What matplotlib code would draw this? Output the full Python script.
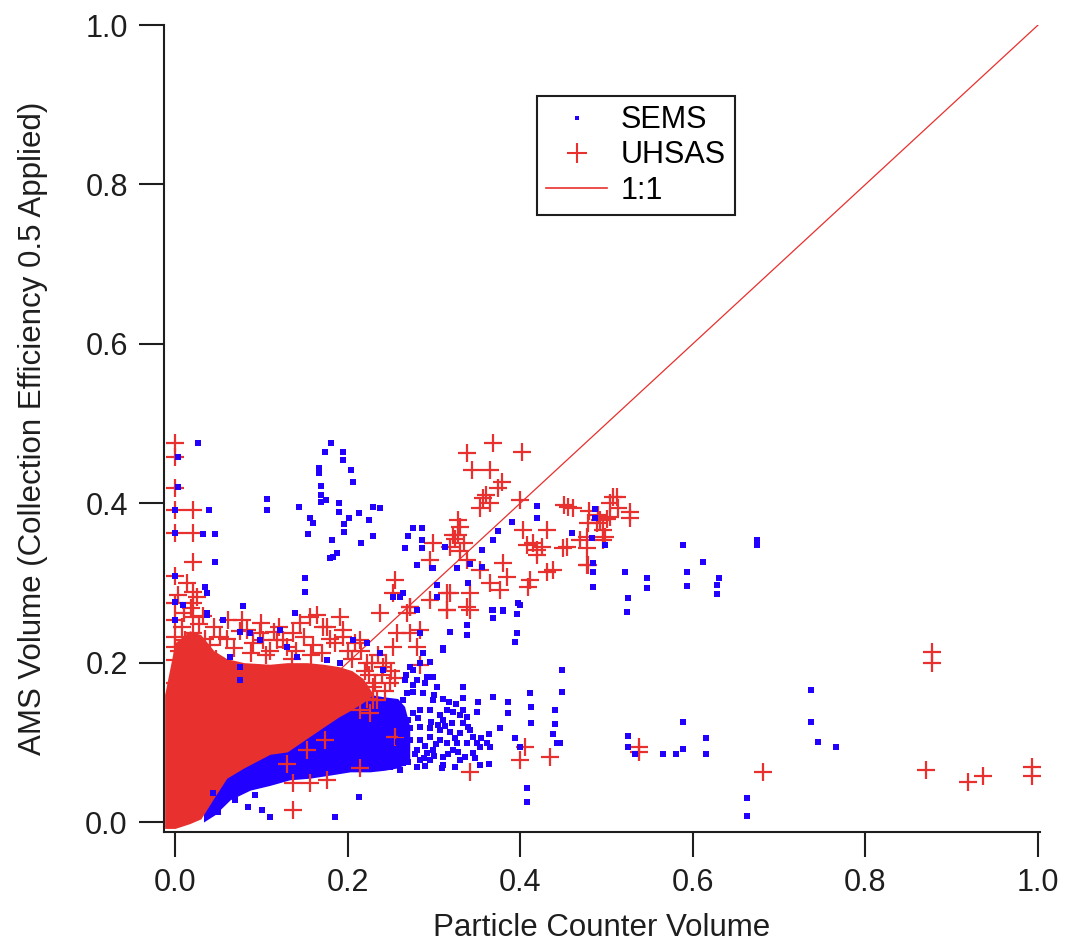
import numpy as np
import matplotlib
matplotlib.use("Agg")
from matplotlib import pyplot as plt
from matplotlib.lines import Line2D

plt.rcParams['font.family'] = ['Liberation Sans', 'DejaVu Sans']

RED = '#e8302e'
BLUE = '#2200ff'
INK = '#1e1e1e'

#%% saturated parts of the two clouds (upper / lower envelope)
uhsas_core_x = [-0.012, 0.0, 0.017, 0.030, 0.045, 0.060, 0.080, 0.110, 0.130, 0.153, 0.172, 0.190, 0.205, 0.218, 0.230]
uhsas_core_lo = [-0.008, -0.008, -0.002, 0.004, 0.030, 0.055, 0.068, 0.085, 0.088, 0.105, 0.119, 0.132, 0.141, 0.150, 0.160]
uhsas_core_hi = [0.160, 0.225, 0.240, 0.235, 0.215, 0.205, 0.200, 0.198, 0.200, 0.200, 0.198, 0.195, 0.190, 0.180, 0.160]

sems_core_x = [0.033, 0.046, 0.064, 0.087, 0.110, 0.133, 0.156, 0.180, 0.203, 0.226, 0.243, 0.258, 0.266, 0.272]
sems_core_lo = [0.0, 0.009, 0.028, 0.040, 0.046, 0.053, 0.055, 0.059, 0.063, 0.063, 0.065, 0.068, 0.072, 0.080]
sems_core_hi = [0.030, 0.050, 0.080, 0.100, 0.110, 0.120, 0.130, 0.145, 0.160, 0.160, 0.157, 0.155, 0.145, 0.120]

#%% UHSAS individual points
uh_left_x = [0.0, 0.0, 0.0, 0.0, 0.0, 0.0, 0.0, 0.0, 0.0, 0.0, 0.0, 0.0,
             0.021, 0.021, 0.021, 0.021, 0.021, 0.021, 0.021]
uh_left_y = [0.476, 0.458, 0.419, 0.391, 0.363, 0.309, 0.275, 0.253, 0.232, 0.220, 0.203, 0.174,
             0.391, 0.363, 0.326, 0.289, 0.275, 0.257, 0.237]

uh_top_x = [0.061, 0.078, 0.083, 0.098, 0.118, 0.137, 0.156, 0.171, 0.191, 0.195, 0.214,
            0.100, 0.120, 0.145, 0.165, 0.180, 0.200, 0.110, 0.130, 0.060, 0.045, 0.035]
uh_top_y = [0.253, 0.253, 0.241, 0.237, 0.228, 0.237, 0.257, 0.245, 0.257, 0.241, 0.228,
            0.250, 0.245, 0.250, 0.260, 0.230, 0.215, 0.215, 0.220, 0.230, 0.245, 0.230]

uh_fill_x = [0.005, 0.012, 0.028, 0.040, 0.052, 0.068, 0.075, 0.090, 0.105, 0.115, 0.125, 0.140, 0.150,
             0.160, 0.170, 0.185, 0.195, 0.205, 0.215, 0.222, 0.010, 0.032, 0.048, 0.088, 0.102, 0.135,
             0.158, 0.176, 0.208, 0.225, 0.004, 0.014, 0.008, 0.018, 0.026, 0.190, 0.200, 0.210, 0.220,
             0.228, 0.235, 0.240, 0.245, 0.215, 0.222, 0.232, 0.243, 0.250]
uh_fill_y = [0.215, 0.228, 0.248, 0.222, 0.232, 0.218, 0.240, 0.225, 0.210, 0.238, 0.228, 0.214, 0.232,
             0.222, 0.212, 0.225, 0.232, 0.205, 0.215, 0.200, 0.262, 0.258, 0.205, 0.212, 0.228, 0.205,
             0.210, 0.245, 0.225, 0.185, 0.285, 0.300, 0.245, 0.268, 0.282, 0.180, 0.170, 0.165, 0.190,
             0.200, 0.210, 0.185, 0.200, 0.170, 0.155, 0.175, 0.165, 0.190]

uh_mid_x = [0.238, 0.255, 0.253, 0.269, 0.272, 0.284, 0.257, 0.280, 0.253, 0.241, 0.229, 0.229, 0.226,
            0.249, 0.295, 0.319, 0.315, 0.234, 0.214, 0.284, 0.255, 0.342, 0.272]
uh_mid_y = [0.262, 0.304, 0.287, 0.262, 0.237, 0.241, 0.237, 0.220, 0.220, 0.194, 0.169, 0.153, 0.137,
            0.174, 0.279, 0.287, 0.266, 0.153, 0.141, 0.197, 0.181, 0.266, 0.270]

uh_band_x = [0.255, 0.214, 0.176, 0.174, 0.153, 0.130, 0.137, 0.137, 0.156, 0.342, 0.406, 0.400, 0.435, 0.538, 0.538]
uh_band_y = [0.107, 0.068, 0.053, 0.103, 0.090, 0.073, 0.049, 0.015, 0.049, 0.063, 0.094, 0.078, 0.082, 0.094, 0.088]

uh_up_x = [0.338, 0.368, 0.402, 0.344, 0.365, 0.379, 0.374, 0.357, 0.400, 0.353, 0.328, 0.322, 0.328,
           0.299, 0.319, 0.295, 0.338, 0.403, 0.408, 0.419, 0.431, 0.455, 0.461, 0.450, 0.477, 0.477,
           0.489, 0.508, 0.513, 0.527, 0.496, 0.498, 0.380, 0.385, 0.365, 0.377, 0.411, 0.409, 0.431,
           0.438, 0.353, 0.342, 0.315, 0.315, 0.338, 0.272,
           0.330, 0.325, 0.335, 0.330, 0.360, 0.365, 0.415, 0.420, 0.425, 0.480, 0.490, 0.500,
           0.451, 0.512, 0.504, 0.504, 0.527, 0.492, 0.478, 0.469, 0.477, 0.496, 0.454, 0.478]
uh_up_y = [0.463, 0.476, 0.464, 0.442, 0.442, 0.427, 0.419, 0.407, 0.404, 0.394, 0.379, 0.360, 0.360,
           0.350, 0.345, 0.329, 0.329, 0.366, 0.348, 0.341, 0.366, 0.395, 0.394, 0.344, 0.358, 0.322,
           0.375, 0.408, 0.394, 0.389, 0.366, 0.358, 0.325, 0.307, 0.300, 0.291, 0.304, 0.295, 0.314,
           0.316, 0.316, 0.287, 0.287, 0.266, 0.270, 0.270,
           0.370, 0.355, 0.350, 0.340, 0.410, 0.400, 0.350, 0.335, 0.345, 0.390, 0.385, 0.380,
           0.398, 0.408, 0.400, 0.383, 0.381, 0.379, 0.375, 0.354, 0.344, 0.354, 0.345, 0.322]

uh_far_x = [0.681, 0.870, 0.877, 0.877, 0.919, 0.936, 0.993, 0.993]
uh_far_y = [0.063, 0.065, 0.213, 0.200, 0.050, 0.058, 0.069, 0.058]

#%% SEMS individual points
se_left_x = [0.003, 0.027, 0.039, 0.032, 0.046, 0.046, 0.035, 0.037, 0.037, 0.0, 0.0, 0.003, 0.0, 0.0, 0.0, 0.009,
             0.107, 0.107, 0.079, 0.139, 0.151, 0.151]
se_left_y = [0.458, 0.476, 0.391, 0.361, 0.361, 0.326, 0.295, 0.287, 0.260, 0.391, 0.363, 0.420, 0.309, 0.276, 0.253, 0.272,
             0.405, 0.391, 0.271, 0.262, 0.306, 0.289]

se_arch_x = [0.181, 0.174, 0.195, 0.195, 0.167, 0.167, 0.204, 0.206, 0.169, 0.169, 0.169, 0.175, 0.190, 0.190,
             0.144, 0.156, 0.160, 0.154, 0.202, 0.196, 0.196, 0.213, 0.225, 0.229, 0.238, 0.229, 0.215,
             0.182, 0.183, 0.180, 0.188]
se_arch_y = [0.476, 0.464, 0.464, 0.454, 0.444, 0.438, 0.442, 0.427, 0.422, 0.410, 0.402, 0.404, 0.400, 0.389,
             0.395, 0.381, 0.375, 0.361, 0.381, 0.374, 0.364, 0.388, 0.379, 0.395, 0.394, 0.359, 0.350,
             0.354, 0.332, 0.331, 0.338]

se_up_x = [0.276, 0.286, 0.270, 0.286, 0.286, 0.267, 0.280, 0.298, 0.304, 0.261, 0.313, 0.299,
           0.419, 0.419, 0.391, 0.374, 0.368, 0.356, 0.342, 0.356, 0.327, 0.340, 0.304,
           0.487, 0.487, 0.460, 0.483, 0.498, 0.484, 0.484, 0.484, 0.521, 0.525, 0.547, 0.547, 0.524,
           0.397, 0.380, 0.367, 0.400, 0.396, 0.380, 0.396, 0.394, 0.368, 0.368, 0.338, 0.338, 0.319, 0.311,
           0.589, 0.593, 0.593, 0.612, 0.630, 0.628, 0.628, 0.674, 0.674]
se_up_y = [0.369, 0.369, 0.359, 0.354, 0.344, 0.344, 0.322, 0.319, 0.282, 0.282, 0.345, 0.319,
           0.396, 0.381, 0.376, 0.365, 0.354, 0.341, 0.324, 0.320, 0.319, 0.300, 0.297,
           0.393, 0.381, 0.363, 0.356, 0.348, 0.325, 0.314, 0.295, 0.314, 0.281, 0.306, 0.294, 0.263,
           0.275, 0.266, 0.266, 0.272, 0.261, 0.265, 0.237, 0.226, 0.266, 0.256, 0.247, 0.235, 0.238, 0.218,
           0.348, 0.314, 0.296, 0.326, 0.306, 0.297, 0.286, 0.354, 0.348]

se_edge_x = [0.037, 0.056, 0.075, 0.087, 0.098, 0.122, 0.130, 0.064, 0.075, 0.075, 0.141, 0.176, 0.191,
             0.206, 0.222, 0.238, 0.241, 0.267, 0.276, 0.269, 0.284, 0.287, 0.299, 0.311, 0.280, 0.264, 0.253]
se_edge_y = [0.262, 0.253, 0.238, 0.237, 0.228, 0.241, 0.220, 0.207, 0.194, 0.178, 0.207, 0.203, 0.199,
             0.228, 0.225, 0.212, 0.191, 0.178, 0.191, 0.162, 0.237, 0.212, 0.182, 0.216, 0.266, 0.287, 0.282]

se_clump_x = [0.272, 0.284, 0.295, 0.280, 0.292, 0.304, 0.276, 0.287, 0.299, 0.264, 0.261, 0.276, 0.284,
              0.295, 0.307, 0.315, 0.322, 0.330, 0.338, 0.311, 0.321, 0.334, 0.340, 0.264, 0.272, 0.284,
              0.295, 0.307, 0.319, 0.330, 0.345, 0.272, 0.284, 0.295, 0.307, 0.315, 0.327, 0.338, 0.350,
              0.362, 0.280, 0.292, 0.299, 0.322, 0.345, 0.353, 0.284, 0.295, 0.311, 0.330, 0.280, 0.264,
              0.261, 0.249,
              0.268, 0.276, 0.290, 0.300, 0.310, 0.318, 0.326, 0.334, 0.270, 0.282, 0.297, 0.305, 0.313,
              0.290, 0.302, 0.325, 0.342, 0.355, 0.268, 0.278, 0.288, 0.300, 0.316, 0.328, 0.348, 0.270,
              0.290, 0.310, 0.258, 0.262,
              0.440, 0.440, 0.438, 0.443, 0.411, 0.413, 0.413, 0.394, 0.400, 0.408, 0.408, 0.377, 0.364,
              0.364, 0.386, 0.386, 0.368, 0.351, 0.350, 0.334, 0.334, 0.336, 0.324, 0.309, 0.353, 0.365]
se_clump_y = [0.194, 0.199, 0.201, 0.178, 0.182, 0.169, 0.163, 0.162, 0.153, 0.153, 0.137, 0.137, 0.141,
              0.141, 0.134, 0.141, 0.138, 0.134, 0.132, 0.128, 0.124, 0.124, 0.119, 0.119, 0.118, 0.119,
              0.118, 0.115, 0.113, 0.112, 0.107, 0.103, 0.103, 0.107, 0.103, 0.099, 0.099, 0.099, 0.099,
              0.099, 0.090, 0.087, 0.090, 0.090, 0.087, 0.094, 0.078, 0.078, 0.082, 0.078, 0.069, 0.074,
              0.065, 0.069,
              0.185, 0.172, 0.175, 0.160, 0.155, 0.150, 0.148, 0.140, 0.128, 0.130, 0.125, 0.122, 0.120,
              0.095, 0.098, 0.105, 0.115, 0.105, 0.090, 0.085, 0.080, 0.083, 0.086, 0.088, 0.080, 0.075,
              0.070, 0.072, 0.100, 0.110,
              0.141, 0.123, 0.110, 0.099, 0.162, 0.144, 0.124, 0.105, 0.094, 0.043, 0.025, 0.118, 0.110,
              0.073, 0.151, 0.137, 0.157, 0.151, 0.138, 0.169, 0.156, 0.082, 0.069, 0.068, 0.072, 0.094]

se_low_x = [0.044, 0.054, 0.070, 0.050, 0.085, 0.101, 0.110, 0.185, 0.093, 0.073, 0.213]
se_low_y = [0.036, 0.024, 0.028, 0.013, 0.019, 0.015, 0.006, 0.006, 0.034, 0.040, 0.031]

se_far_x = [0.448, 0.448, 0.446, 0.525, 0.525, 0.533, 0.565, 0.581, 0.589, 0.589, 0.615, 0.615,
            0.663, 0.663, 0.737, 0.737, 0.745, 0.766]
se_far_y = [0.191, 0.163, 0.099, 0.108, 0.094, 0.085, 0.085, 0.085, 0.125, 0.092, 0.105, 0.085,
            0.030, 0.008, 0.166, 0.125, 0.100, 0.094]

one_x = [0.0, 1.0]
one_y = [0.0, 1.0]

uhsas_x = uh_left_x + uh_top_x + uh_fill_x + uh_mid_x + uh_band_x + uh_up_x + uh_far_x
uhsas_y = uh_left_y + uh_top_y + uh_fill_y + uh_mid_y + uh_band_y + uh_up_y + uh_far_y
sems_x = se_left_x + se_arch_x + se_up_x + se_edge_x + se_clump_x + se_low_x + se_far_x
sems_y = se_left_y + se_arch_y + se_up_y + se_edge_y + se_clump_y + se_low_y + se_far_y

#%%
fig = plt.figure(figsize=(10.66, 9.46), dpi=100)
ax = fig.add_axes([0.1538, 0.1205, 0.8218, 0.853])

ax.fill_between(sems_core_x, sems_core_lo, sems_core_hi, color=BLUE, lw=0, zorder=1)
ax.fill_between(uhsas_core_x, uhsas_core_lo, uhsas_core_hi, color=RED, lw=0, zorder=2)
ax.plot(one_x, one_y, color=RED, lw=0.9, zorder=2.5)
ax.plot(uhsas_x, uhsas_y, ls='none', marker='+', ms=13, mew=1.6, color=RED, zorder=3)
ax.plot(sems_x, sems_y, ls='none', marker='s', ms=4.5, mew=0, color=BLUE, zorder=4)

ax.set_xlim(-0.0128, 1.0023)
ax.set_ylim(-0.0125, 1.0)
ax.set_xticks(np.arange(0, 1.01, 0.2))
ax.set_yticks(np.arange(0, 1.01, 0.2))
ax.xaxis.set_major_formatter(matplotlib.ticker.FormatStrFormatter('%.1f'))
ax.yaxis.set_major_formatter(matplotlib.ticker.FormatStrFormatter('%.1f'))
for s in ['top', 'right']:
    ax.spines[s].set_visible(False)
for s in ['left', 'bottom']:
    ax.spines[s].set_linewidth(1.5)
    ax.spines[s].set_color(INK)
ax.tick_params(direction='out', length=18, width=1.5, color=INK, pad=8, labelsize=22, labelcolor=INK)

ax.set_xlabel('Particle Counter Volume', fontsize=22.5, color=INK, labelpad=11)
ax.set_ylabel('AMS Volume (Collection Efficiency 0.5 Applied)', fontsize=22.5, color=INK, labelpad=27)

handles = [Line2D([], [], ls='none', marker='s', ms=3, mew=0, color=BLUE),
           Line2D([], [], ls='none', marker='+', ms=14, mew=1.5, color=RED),
           Line2D([], [], color=RED, lw=1.2)]
leg = ax.legend(handles, ['SEMS', 'UHSAS', '1:1'], loc='upper left', bbox_to_anchor=(0.4258, 0.912),
                fontsize=22, frameon=True, fancybox=False, framealpha=1, edgecolor=INK,
                handlelength=2.0, handletextpad=0.45, labelspacing=0.17, borderpad=0.3, borderaxespad=0)
leg.get_frame().set_linewidth(1.5)

fig.savefig('out.png', dpi=100)
